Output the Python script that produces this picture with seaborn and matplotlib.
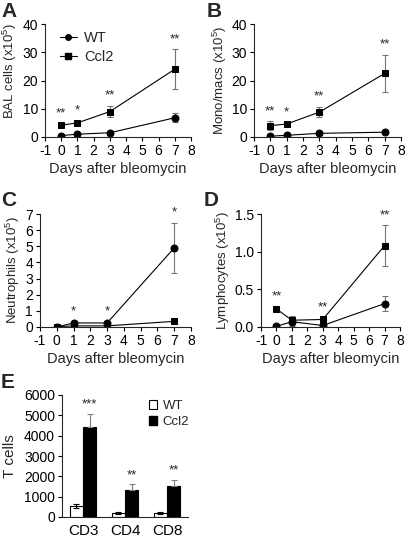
import numpy as np
import pandas as pd
import matplotlib
matplotlib.use("Agg")
import matplotlib.pyplot as plt
import seaborn as sns
from matplotlib.lines import Line2D
from matplotlib.patches import Patch

days = [0, 1, 3, 7]

# A: BAL cells (x10^5)
bal_wt = [0.5, 1.0, 1.5, 6.8]
bal_wt_err = [0.3, 0.3, 0.4, 1.6]
bal_ccl2 = [4.2, 5.0, 9.0, 24.0]
bal_ccl2_err = [0.6, 0.7, 2.0, 7.0]
bal_stars = ["**", "*", "**", "**"]

# B: Mono/macs (x10^5)
mono_wt = [0.3, 0.6, 1.3, 1.7]
mono_wt_err = [0.2, 0.2, 0.3, 0.3]
mono_ccl2 = [4.0, 4.6, 8.8, 22.5]
mono_ccl2_err = [1.5, 0.6, 1.8, 6.5]
mono_stars = ["**", "*", "**", "**"]

# C: Neutrophils (x10^5)
neut_wt = [0.0, 0.25, 0.25, 4.9]
neut_wt_err = [0.05, 0.1, 0.1, 1.55]
neut_ccl2 = [0.02, 0.07, 0.07, 0.35]
neut_ccl2_err = [0.02, 0.03, 0.03, 0.05]
neut_stars = ["", "*", "*", "*"]

# D: Lymphocytes (x10^5)
lymph_wt = [0.01, 0.07, 0.02, 0.31]
lymph_wt_err = [0.01, 0.06, 0.01, 0.1]
lymph_ccl2 = [0.24, 0.09, 0.10, 1.08]
lymph_ccl2_err = [0.03, 0.05, 0.02, 0.27]
lymph_stars = ["**", "", "**", "**"]

# E: T cells
tcell_types = ["CD3", "CD4", "CD8"]
tcell_wt = [550, 200, 200]
tcell_wt_err = [100, 30, 30]
tcell_ccl2 = [4430, 1330, 1510]
tcell_ccl2_err = [650, 270, 330]
tcell_stars = ["***", "**", "**"]

sns.set_style("ticks")
plt.rcParams["font.family"] = ["Liberation Sans", "DejaVu Sans"]
plt.rcParams["mathtext.default"] = "regular"
plt.rcParams["axes.unicode_minus"] = False
plt.rcParams["font.size"] = 10
plt.rcParams["axes.linewidth"] = 0.8
plt.rcParams["xtick.major.size"] = 3
plt.rcParams["ytick.major.size"] = 3
plt.rcParams["xtick.major.width"] = 0.8
plt.rcParams["ytick.major.width"] = 0.8
plt.rcParams["xtick.color"] = "black"
plt.rcParams["ytick.color"] = "black"

W, H = 407, 538
fig = plt.figure(figsize=(W / 100, H / 100), dpi=100)


def box(l, r, t, b):
    return [l / W, 1 - b / H, (r - l) / W, (b - t) / H]


def line_panel(ax, wt, wt_err, ccl2, ccl2_err, stars, ylim, yticks, ylabel, fmt=None):
    df = pd.DataFrame({
        "day": days * 2,
        "val": wt + ccl2,
        "group": ["WT"] * 4 + ["Ccl2"] * 4,
    })
    for vals, errs in [(wt, wt_err), (ccl2, ccl2_err)]:
        ax.errorbar(days, vals, yerr=errs, fmt="none", ecolor="0.45",
                    elinewidth=0.8, capsize=2, capthick=0.8, zorder=1)
    sns.lineplot(data=df, x="day", y="val", style="group",
                 markers={"WT": "o", "Ccl2": "s"}, dashes=False,
                 color="black", linewidth=0.8, markersize=5,
                 markeredgecolor="black", ax=ax, legend=False, zorder=2)
    for i, s in enumerate(stars):
        if s:
            top = max(wt[i] + wt_err[i], ccl2[i] + ccl2_err[i])
            ax.annotate(s, (days[i], top), xytext=(0, 3),
                        textcoords="offset points", ha="center",
                        va="bottom", fontsize=9.5)
    ax.set_xlim(-1, 8)
    ax.set_xticks(range(-1, 9))
    ax.set_ylim(*ylim)
    ax.set_yticks(yticks)
    if fmt:
        ax.set_yticklabels([fmt % v for v in yticks])
    ax.set_xlabel("Days after bleomycin", fontsize=10.5, labelpad=3)
    ax.set_ylabel(ylabel, fontsize=9.5, labelpad=2)
    ax.tick_params(labelsize=10, pad=2)
    sns.despine(ax=ax)


axA = fig.add_axes(box(45, 191, 24, 137))
line_panel(axA, bal_wt, bal_wt_err, bal_ccl2, bal_ccl2_err, bal_stars,
           (0, 40), [0, 10, 20, 30, 40], "BAL cells (x10$^5$)")
axA.yaxis.set_label_coords(-0.175, 0.58)
handles = [Line2D([], [], color="black", marker="o", markersize=4, lw=0.8),
           Line2D([], [], color="black", marker="s", markersize=4, lw=0.8)]
axA.legend(handles, ["WT", "Ccl2"], loc="upper left", frameon=False,
           fontsize=10.5, handlelength=1.2, handletextpad=0.5,
           borderaxespad=0.1, bbox_to_anchor=(0.05, 1.0), labelspacing=0.3)

axB = fig.add_axes(box(254, 401, 24, 137))
line_panel(axB, mono_wt, mono_wt_err, mono_ccl2, mono_ccl2_err, mono_stars,
           (0, 40), [0, 10, 20, 30, 40], "Mono/macs (x10$^5$)")

axC = fig.add_axes(box(40, 191, 214, 327))
line_panel(axC, neut_wt, neut_wt_err, neut_ccl2, neut_ccl2_err, neut_stars,
           (0, 7), list(range(8)), "Neutrophils (x10$^5$)")

axD = fig.add_axes(box(261, 400, 214, 327))
line_panel(axD, lymph_wt, lymph_wt_err, lymph_ccl2, lymph_ccl2_err, lymph_stars,
           (0, 1.5), [0.0, 0.5, 1.0, 1.5], "Lymphocytes (x10$^5$)", fmt="%.1f")

# E: bar chart
axE = fig.add_axes(box(62, 188, 395, 517))
bdf = pd.DataFrame({
    "cell": tcell_types * 2,
    "count": tcell_wt + tcell_ccl2,
    "group": ["WT"] * 3 + ["Ccl2"] * 3,
})
sns.barplot(data=bdf, x="cell", y="count", hue="group",
            palette={"WT": "white", "Ccl2": "black"}, edgecolor="black",
            linewidth=0.8, width=0.62, errorbar=None, ax=axE, legend=False)
wt_bars = axE.patches[:3]
ccl2_bars = axE.patches[3:6]
for bars, vals, errs, col, low in [(wt_bars, tcell_wt, tcell_wt_err, "black", True),
                                   (ccl2_bars, tcell_ccl2, tcell_ccl2_err, "0.5", False)]:
    xs = [b.get_x() + b.get_width() / 2 for b in bars]
    yerr = [errs, errs] if low else [[0] * 3, errs]
    axE.errorbar(xs, vals, yerr=yerr, fmt="none", ecolor=col,
                 elinewidth=0.8, capsize=2, capthick=0.8)
    if not low:
        for x, v, e, s in zip(xs, vals, errs, tcell_stars):
            axE.annotate(s, (x, v + e), xytext=(0, 2), textcoords="offset points",
                         ha="center", va="bottom", fontsize=9.5)
axE.set_xlim(-0.5, 2.5)
axE.set_ylim(0, 6000)
axE.set_yticks(range(0, 6001, 1000))
axE.set_xlabel("")
axE.set_ylabel("T cells", fontsize=11, labelpad=5)
axE.tick_params(axis="y", labelsize=10, pad=2)
axE.tick_params(axis="x", labelsize=11, length=0, pad=5)
sns.despine(ax=axE)
axE.legend([Patch(facecolor="white", edgecolor="black", lw=0.8),
            Patch(facecolor="black", edgecolor="black")], ["WT", "Ccl2"],
           loc="upper right", frameon=False, fontsize=9.5, handlelength=0.6,
           handleheight=0.6, handletextpad=0.4, borderaxespad=0.0,
           bbox_to_anchor=(1.05, 1.0), labelspacing=0.3)

for lab, x, y in [("A", 1, 2), ("B", 207, 2), ("C", 1, 191), ("D", 204, 191), ("E", 1, 373)]:
    fig.text(x / W, 1 - y / H, lab, fontsize=15, fontweight="bold",
             ha="left", va="top")

fig.savefig("out.png", dpi=100)
